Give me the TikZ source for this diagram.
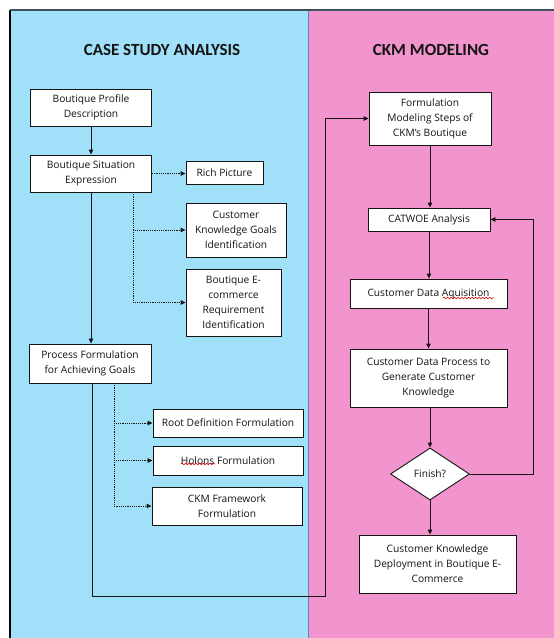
\documentclass[tikz,border=0pt]{standalone}
\usepackage{fontspec}
\setmainfont{Open Sans}
\newfontfamily\titlefont{Carlito}
\usetikzlibrary{arrows.meta,shapes.geometric,decorations.pathmorphing}

\definecolor{panelblue}{RGB}{160,224,248}
\definecolor{panelpink}{RGB}{242,148,206}
\definecolor{rimgray}{RGB}{62,80,94}
\definecolor{divider}{RGB}{108,124,184}
\definecolor{inkgray}{RGB}{20,20,20}

\begin{document}
\begin{tikzpicture}[x=1pt,y=-1pt,
  box/.style={draw=inkgray,line width=0.9pt,fill=white,align=center,inner sep=0pt,
     font=\fontsize{10.2}{15}\selectfont,text=inkgray},
  arr/.style={-{Triangle[length=5pt,width=4.5pt]},line width=0.9pt,draw=inkgray},
  dotarr/.style={arr,dash pattern=on 1.2pt off 1pt},
  title/.style={font=\titlefont\bfseries\fontsize{17}{20}\selectfont,text=inkgray},
  squig/.style={red!85!black,line width=0.6pt,decorate,
     decoration={snake,amplitude=0.9pt,segment length=3.5pt}}
]
\useasboundingbox (0,0) rectangle (554,638);
\fill[white] (0,0) rectangle (554,638);

% two swim lanes
\fill[panelblue] (10,10) rectangle (308,638);
\fill[panelpink] (308,10) rectangle (554,638);
\draw[divider,line width=1pt] (308,10) -- (308,638);
\draw[black,line width=1.3pt] (10,638) -- (10,10);
\draw[rimgray,line width=1.6pt] (10,10) -- (554,10);

% lane titles
\node[title] (tleft) at (162,50) {CASE STUDY ANALYSIS};
\node[title] (tright) at (431,50) {CKM MODELING};

% case study analysis lane
\node[box,minimum width=121pt,minimum height=37pt] (bpd) at (91,107.5) {Boutique Profile\\Description};
\node[box,minimum width=121pt,minimum height=37pt] (bse) at (91,173.5) {Boutique Situation\\Expression};
\node[box,minimum width=77pt,minimum height=23pt] (rich) at (224.5,172.5) {Rich Picture};
\node[box,minimum width=100pt,minimum height=54pt] (ckg) at (236,230) {Customer\\Knowledge Goals\\Identification};
\node[box,minimum width=95pt,minimum height=67pt] (bec) at (233.5,302.5) {Boutique E-\\commerce\\Requirement\\Identification};
\node[box,minimum width=122pt,minimum height=39pt] (proc) at (90,363.5) {Process Formulation\\for Achieving Goals};
\node[box,minimum width=150pt,minimum height=28pt] (root) at (228,423) {Root Definition Formulation};
\node[box,minimum width=150pt,minimum height=29pt] (holons) at (228,460.5) {Holons Formulation};
\node[box,minimum width=150pt,minimum height=38pt] (ckmf) at (227,506) {CKM Framework\\Formulation};

% CKM modeling lane
\node[box,minimum width=122pt,minimum height=53pt] (fms) at (430,118.5) {Formulation\\Modeling Steps of\\CKM’s Boutique};
\node[box,minimum width=122pt,minimum height=23pt] (cat) at (429,219.5) {CATWOE Analysis};
\node[box,minimum width=157pt,minimum height=29pt] (cda) at (428.5,293.5) {Customer Data Aquisition};
\node[box,minimum width=157pt,minimum height=58pt] (cdp) at (428.5,378) {Customer Data Process to\\Generate Customer\\Knowledge};
\node[box,diamond,aspect=1.5,minimum width=79pt,minimum height=52pt] (fin) at (430,474) {Finish?};
\node[box,minimum width=157pt,minimum height=58pt] (ckd) at (437.5,564) {Customer Knowledge\\Deployment in Boutique E-\\Commerce};

% spell-check marks under two words
\draw[squig] (181,464) -- (215,464);
\draw[squig] (443,298) -- (494,298);

% solid flow, left lane
\draw[arr] (bpd.south) -- (bpd.south |- bse.north);
\draw[arr] (bse.south) -- (bse.south |- proc.north);

% dotted branches from the situation expression
\coordinate (tapA) at (133,192);
\draw[dotarr] (bse.east) -- (bse.east -| rich.west);
\draw[dotarr] (tapA) |- (ckg.west);
\draw[dotarr] (tapA) |- (bec.west);

% dotted branches from the process formulation
\coordinate (tapB) at (114,383);
\draw[dotarr] (tapB) |- (root.west);
\draw[dotarr] (tapB) |- (holons.west);
\draw[dotarr] (tapB) |- (ckmf.west);

% hand-over to the modeling lane
\coordinate (lowL) at (92,596);
\coordinate (lowR) at (325,596);
\draw[arr] (proc.south -| lowL) -- (lowL) -- (lowR) |- (fms.west);

% solid flow, right lane
\draw[arr] (fms.south) -- (fms.south |- cat.north);
\draw[arr] (cat.south) -- (cat.south |- cda.north);
\draw[arr] (cda.south) -- (cda.south |- cdp.north);
\draw[arr] (cdp.south -| fin.north) -- (fin.north);
\draw[arr] (fin.south) -- (fin.south |- ckd.north);

% loop back from the decision
\coordinate (backX) at (533,0);
\draw[arr] (fin.east) -- (fin.east -| backX) |- (cat.east);
\end{tikzpicture}
\end{document}
